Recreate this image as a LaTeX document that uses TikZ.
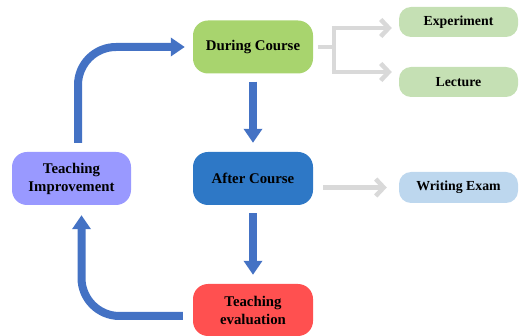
\documentclass[tikz,border=0pt]{standalone}
\usepackage{fontspec}
\setmainfont{Liberation Serif}
\usetikzlibrary{arrows.meta}

\definecolor{durgreen}{RGB}{168,212,110}
\definecolor{palegreen}{RGB}{197,224,180}
\definecolor{lavender}{RGB}{153,153,255}
\definecolor{midblue}{RGB}{46,120,198}
\definecolor{paleblue}{RGB}{189,215,238}
\definecolor{coral}{RGB}{255,80,80}
\definecolor{flowblue}{RGB}{68,114,196}
\definecolor{lightgray}{RGB}{217,217,217}

\tikzset{
  mainbox/.style={rounded corners=15pt, minimum width=120pt, minimum height=53pt,
    align=center, inner sep=2pt, font=\fontsize{14.8}{18}\selectfont\bfseries},
  subbox/.style={rounded corners=12pt, minimum width=119pt, minimum height=30pt,
    align=center, inner sep=2pt, font=\fontsize{13.8}{16}\selectfont\bfseries},
  flow/.style={draw=flowblue, line width=8pt, rounded corners=38pt,
    -{Triangle[length=14pt,width=18pt]}},
  side/.style={draw=lightgray, line width=4.5pt,
    -{Straight Barb[length=8pt,width=17pt,line width=4.5pt]}},
  sideline/.style={draw=lightgray, line width=4.5pt}
}

\begin{document}
\begin{tikzpicture}[x=1pt,y=-1pt]
  \useasboundingbox (0,0) rectangle (519,336);

  % stages of the course
  \node[mainbox, fill=durgreen] (during) at (253,47) {During Course};
  \node[mainbox, fill=midblue] (after) at (253,178.5) {After Course};
  \node[mainbox, fill=coral, minimum height=52pt] (eval) at (253,310) {Teaching\\evaluation};
  \node[mainbox, fill=lavender, minimum width=119pt] (impr) at (71.5,178.5) {Teaching\\Improvement};

  % activities of each stage
  \node[subbox, fill=palegreen] (exp) at (458.5,22) {Experiment};
  \node[subbox, fill=palegreen] (lect) at (458.5,82) {Lecture};
  \node[subbox, fill=paleblue, minimum height=31pt] (exam) at (458.5,187.5) {Writing Exam};

  % main cycle
  \draw[flow, shorten <=8pt, shorten >=9pt] (during.south) -- (after.north);
  \draw[flow, shorten <=8pt, shorten >=9pt] (after.south) -- (eval.north);
  \coordinate (evout) at ([yshift=-6pt]eval.west);
  \draw[flow, shorten <=10pt, shorten >=10pt] (evout) -| ([xshift=10pt]impr.south);
  \draw[flow, shorten <=9pt, shorten >=8pt] ([xshift=6.5pt]impr.north) |- (during.west);

  % branches to the activities
  \coordinate (fork) at (334,47);
  \coordinate (forktop) at (334,28);
  \coordinate (forkbot) at (334,72);
  \draw[sideline] ([xshift=5pt]during.east) -- (fork);
  \draw[sideline] ([yshift=2pt]forktop) -- ([yshift=-2pt]forkbot);
  \draw[side, shorten >=7pt] ([xshift=-2.25pt]forktop) -- (forktop -| exp.west);
  \draw[side, shorten >=7pt] ([xshift=-2.25pt]forkbot) -- (forkbot -| lect.west);
  \draw[side, shorten <=10pt, shorten >=12pt] (after.east |- exam.west) -- (exam.west);
\end{tikzpicture}
\end{document}
